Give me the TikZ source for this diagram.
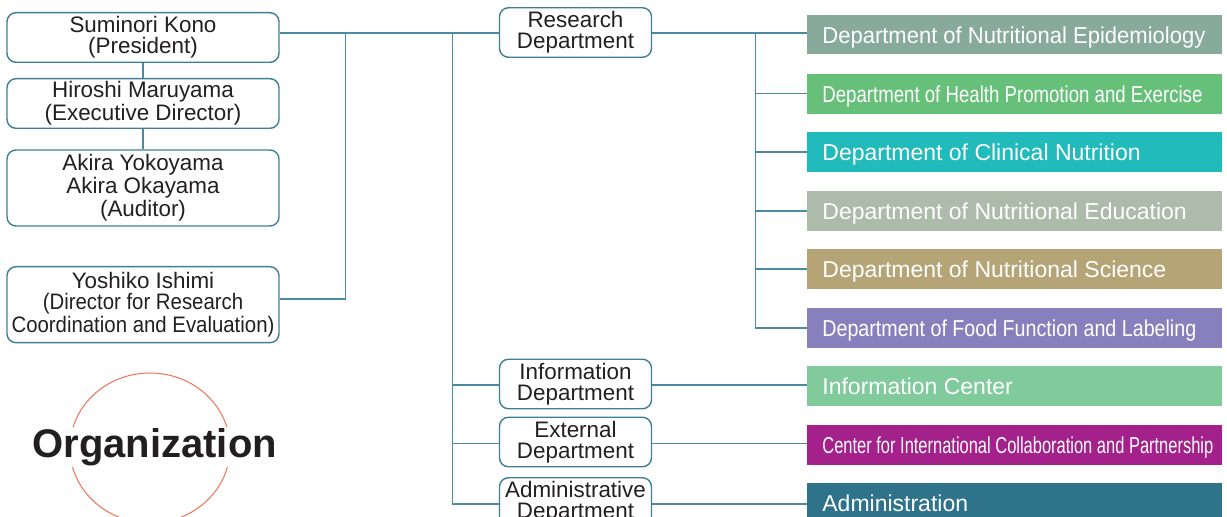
\documentclass[tikz,border=0pt]{standalone}
\usepackage{fontspec}
\setmainfont{Liberation Sans}
\usepackage{graphicx}
\definecolor{boxline}{HTML}{3E7F97}
\definecolor{linkline}{HTML}{4A8BA3}
\definecolor{ink}{HTML}{231F20}
\definecolor{ring}{HTML}{F07358}
\definecolor{epicol}{HTML}{87AA9B}
\definecolor{hpecol}{HTML}{67C07A}
\definecolor{clincol}{HTML}{21BBBB}
\definecolor{educol}{HTML}{ACBBAA}
\definecolor{scicol}{HTML}{B5A476}
\definecolor{foodcol}{HTML}{8780BC}
\definecolor{infocol}{HTML}{80CA9C}
\definecolor{intlcol}{HTML}{A4218B}
\definecolor{admcol}{HTML}{2E7389}
\newcommand{\squeeze}[2]{\scalebox{#1}[1]{#2}}
\newcommand{\unitlabel}[2]{\makebox[192.5pt][l]{\scalebox{#1}[1]{#2}}}
\begin{document}
\begin{tikzpicture}[x=0.5pt, y=-0.5pt,
  person/.style = {draw=boxline, line width=0.7pt, rounded corners=4.5pt,
    minimum width=136pt, minimum height=24.8pt, inner sep=0pt,
    align=center, text=ink, font=\fontsize{11.2}{10.3}\selectfont},
  dept/.style = {person, minimum width=76pt, minimum height=24.75pt},
  unit/.style = {anchor=west, minimum width=207.5pt, minimum height=19.75pt,
    inner xsep=7.5pt, inner ysep=0pt, text depth=0pt, text=white,
    font=\fontsize{11.5}{13}\selectfont},
  link/.style = {draw=linkline, line width=0.65pt}
  ]
  \useasboundingbox (0,0) rectangle (1227,517);
  \clip (0,0) rectangle (1227,517);

  % board
  \node[person] (kono) at (143,37.5) {Suminori Kono\\(President)};
  \node[person] (maru) at (143,103.5) {Hiroshi Maruyama\\(Executive Director)};
  \node[person, minimum height=38pt] (audit) at (143,188)
    {Akira Yokoyama\\Akira Okayama\\(Auditor)};
  \node[person, minimum height=38pt] (ishimi) at (143,304.7)
    {Yoshiko Ishimi\\\squeeze{0.91}{(Director for Research}\\
     \squeeze{0.91}{Coordination and Evaluation)}};

  % departments
  \node[dept] (research) at (575.5,32.5) {Research\\Department};
  \node[dept] (info) at (575.5,384) {Information\\Department};
  \node[dept] (ext) at (575.5,442) {External\\Department};
  \node[dept] (admin) at (575.5,502.5) {Administrative\\Department};

  % units
  \node[unit, fill=epicol] (epi) at (807,34.7)
    {\unitlabel{0.957}{Department of Nutritional Epidemiology}};
  \node[unit, fill=hpecol] (hpe) at (807,93.8)
    {\unitlabel{0.81}{Department of Health Promotion and Exercise}};
  \node[unit, fill=clincol] (clin) at (807,152)
    {\unitlabel{1}{Department of Clinical Nutrition}};
  \node[unit, fill=educol] (edu) at (807,211)
    {\unitlabel{1}{Department of Nutritional Education}};
  \node[unit, fill=scicol] (sci) at (807,269)
    {\unitlabel{1}{Department of Nutritional Science}};
  \node[unit, fill=foodcol] (food) at (807,328)
    {\unitlabel{0.855}{Department of Food Function and Labeling}};
  \node[unit, fill=infocol] (infoc) at (807,386)
    {\unitlabel{1}{Information Center}};
  \node[unit, fill=intlcol] (intl) at (807,445)
    {\unitlabel{0.716}{Center for International Collaboration and Partnership}};
  \node[unit, fill=admcol] (adm) at (807,502.8)
    {\unitlabel{1}{Administration}};

  % connectors
  \coordinate (j1) at (345.5,33);
  \coordinate (j2) at (452.5,33);
  \coordinate (j3) at (755.7,33);
  \draw[link] (kono.south) -- (maru.north);
  \draw[link] (maru.south) -- (audit.north);
  \draw[link] (kono.east |- j1) -- (research.west |- j1);
  \draw[link] ([yshift=2.85pt]ishimi.east) -| (j1);
  \draw[link] (j2) |- ([yshift=-0.8pt]admin.west);
  \draw[link] ([yshift=-0.5pt]info.west -| j2) -- ([yshift=-0.5pt]info.west);
  \draw[link] ([yshift=-0.8pt]ext.west -| j2) -- ([yshift=-0.8pt]ext.west);
  \draw[link] (research.east |- j3) -- (epi.west |- j3);
  \draw[link] (j3) |- (food.west);
  \foreach \n in {hpe, clin, edu, sci}
    \draw[link] (\n.west -| j3) -- (\n.west);
  \draw[link] ([yshift=-0.5pt]info.east) -- ([yshift=-0.5pt]info.east -| infoc.west);
  \draw[link] ([yshift=-0.8pt]ext.east) -- ([yshift=-0.8pt]ext.east -| intl.west);
  \draw[link] ([yshift=-0.8pt]admin.east) -- ([yshift=-0.8pt]admin.east -| adm.west);

  % title
  \draw[ring, line width=0.5pt] (150,448) ellipse [x radius=40pt, y radius=37.5pt];
  \node[fill=white, inner sep=0.5pt, text=ink, font=\fontsize{20}{24}\bfseries\selectfont]
    (title) at (154.7,447) {Organization};
\end{tikzpicture}
\end{document}
